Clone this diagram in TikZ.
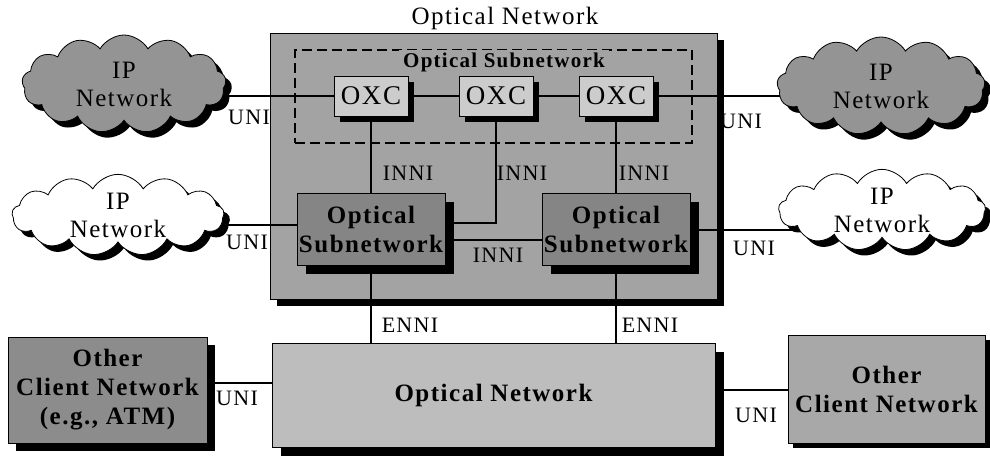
\documentclass[tikz,border=0pt]{standalone}
\usepackage{fontspec}
\setmainfont{Liberation Serif}[LetterSpace=6]
\usetikzlibrary{shapes.symbols,shadows}
\pgfdeclarelayer{bg}
\pgfdeclarelayer{lines}
\pgfsetlayers{bg,lines,main}
\definecolor{gbig}{gray}{0.64}
\definecolor{goxc}{gray}{0.80}
\definecolor{gsub}{gray}{0.52}
\definecolor{gcloud}{gray}{0.58}
\definecolor{gbot}{gray}{0.74}
\definecolor{gcl}{gray}{0.55}
\definecolor{gcr}{gray}{0.66}
\begin{document}
\begin{tikzpicture}[x=1pt,y=-1pt,
  shad/.style={drop shadow={shadow xshift=#1, shadow yshift=-#1, fill=black, opacity=1, shadow scale=1}},
  box/.style={draw=black, line width=0.8pt, rectangle, inner sep=0pt, align=center},
  bfont/.style={font=\fontsize{25}{29}\selectfont\bfseries},
  rfont/.style={font=\fontsize{25}{28}\selectfont},
  lab/.style={font=\fontsize{22}{26}\selectfont, inner sep=0pt},
  conn/.style={line width=1.8pt, black},
  cloudbox/.style={cloud, cloud puffs=13, cloud puff arc=120, aspect=2.3, draw=black, line width=0.8pt, inner sep=0pt, align=center, rfont},
  dashbox/.style={draw=black, line width=2pt, dash pattern=on 10pt off 5pt, inner sep=0pt}
]
\useasboundingbox (0,0) rectangle (990,456);

\begin{pgfonlayer}{bg}
\node[box, fill=gbig, minimum width=447pt, minimum height=266pt, shad=7pt] (big) at (493.5,166) {};
\end{pgfonlayer}

% title
\node[font=\fontsize{25}{28}\selectfont, inner sep=0pt] (title) at (505,18) {Optical Network};

% dashed optical subnetwork
\node[dashbox, minimum width=397pt, minimum height=93pt] (dash) at (493.5,96.5) {};
\node[font=\fontsize{21}{24}\selectfont\bfseries, fill=gbig, inner xsep=4pt, inner ysep=2pt] (dashlab) at (504,62) {Optical Subnetwork};

% OXCs
\node[box, fill=goxc, minimum width=74pt, minimum height=40pt, shad=6pt, font=\fontsize{27}{30}\selectfont] (oxc1) at (371,96) {OXC};
\node[box, fill=goxc, minimum width=74pt, minimum height=40pt, shad=6pt, font=\fontsize{27}{30}\selectfont] (oxc2) at (496,96) {OXC};
\node[box, fill=goxc, minimum width=74pt, minimum height=40pt, shad=6pt, font=\fontsize{27}{30}\selectfont] (oxc3) at (616,96) {OXC};

% Optical subnetwork boxes
\node[box, fill=gsub, minimum width=148pt, minimum height=72pt, shad=9pt, bfont] (lsub) at (371,229) {Optical\\Subnetwork};
\node[box, fill=gsub, minimum width=148pt, minimum height=72pt, shad=9pt, bfont] (rsub) at (616,229) {Optical\\Subnetwork};

% clouds
\node[cloudbox, fill=gcloud, minimum width=204pt, minimum height=98pt, shad=6pt] (ltc) at (124,84) {IP\\Network};
\node[cloudbox, fill=gcloud, minimum width=208pt, minimum height=98pt, shad=6pt] (rtc) at (881,86) {IP\\Network};
\node[cloudbox, fill=white, minimum width=212pt, minimum height=72pt, shad=6pt] (lmc) at (118,215) {IP\\Network};
\node[cloudbox, fill=white, minimum width=207pt, minimum height=74pt, shad=6pt] (rmc) at (882,210) {IP\\Network};

% bottom
\node[box, fill=gbot, minimum width=443pt, minimum height=104pt, shad=9pt, bfont] (bot) at (493.5,395) {Optical Network};
\node[box, fill=gcl, minimum width=199pt, minimum height=106pt, shad=8pt, bfont] (lcl) at (107.5,390) {Other\\Client Network\\(e.g., ATM)};
\node[box, fill=gcr, minimum width=197pt, minimum height=108pt, shad=5pt, bfont] (rcl) at (886.5,389) {Other\\Client Network};

% connectors
\begin{pgfonlayer}{lines}
\draw[conn] (oxc1.center) -- (oxc1.center -| ltc.center);
\draw[conn] (oxc1) -- (oxc2);
\draw[conn] (oxc2) -- (oxc3);
\draw[conn] (oxc3.center) -- (oxc3.center -| rtc.center);
\draw[conn] (oxc1) -- (lsub);
\draw[conn] (oxc3) -- (rsub);
\draw[conn] (oxc2.center) |- ([yshift=6pt]lsub.center);
\draw[conn] ([yshift=-11pt]lsub.center) -- ([yshift=-11pt]rsub.center);
\draw[conn] ([yshift=4pt]lsub.center) -- ([yshift=4pt]lsub.center -| lmc.center);
\draw[conn] ([yshift=-1pt]rsub.center) -- ([yshift=-1pt]rsub.center -| rmc.center);
\draw[conn] (lsub) -- (lsub |- bot.center);
\draw[conn] (rsub) -- (rsub |- bot.center);
\draw[conn] ([yshift=7pt]lcl.center) -- ([yshift=7pt]lcl.center -| bot.center);
\draw[conn] ([yshift=-1pt]rcl.center) -- ([yshift=-1pt]rcl.center -| bot.center);
\end{pgfonlayer}

% labels
\node[lab] (u1) at (249,117) {UNI};
\node[lab] (u2) at (741,121) {UNI};
\node[lab] (u3) at (247,242) {UNI};
\node[lab] (u4) at (754,248) {UNI};
\node[lab] (u5) at (237,398) {UNI};
\node[lab] (u6) at (756,415) {UNI};
\node[lab] (i1) at (408,173) {INNI};
\node[lab] (i2) at (522,173) {INNI};
\node[lab] (i3) at (644,173) {INNI};
\node[lab] (i4) at (498,255) {INNI};
\node[lab] (e1) at (410,325) {ENNI};
\node[lab] (e2) at (650,325) {ENNI};
\end{tikzpicture}
\end{document}
